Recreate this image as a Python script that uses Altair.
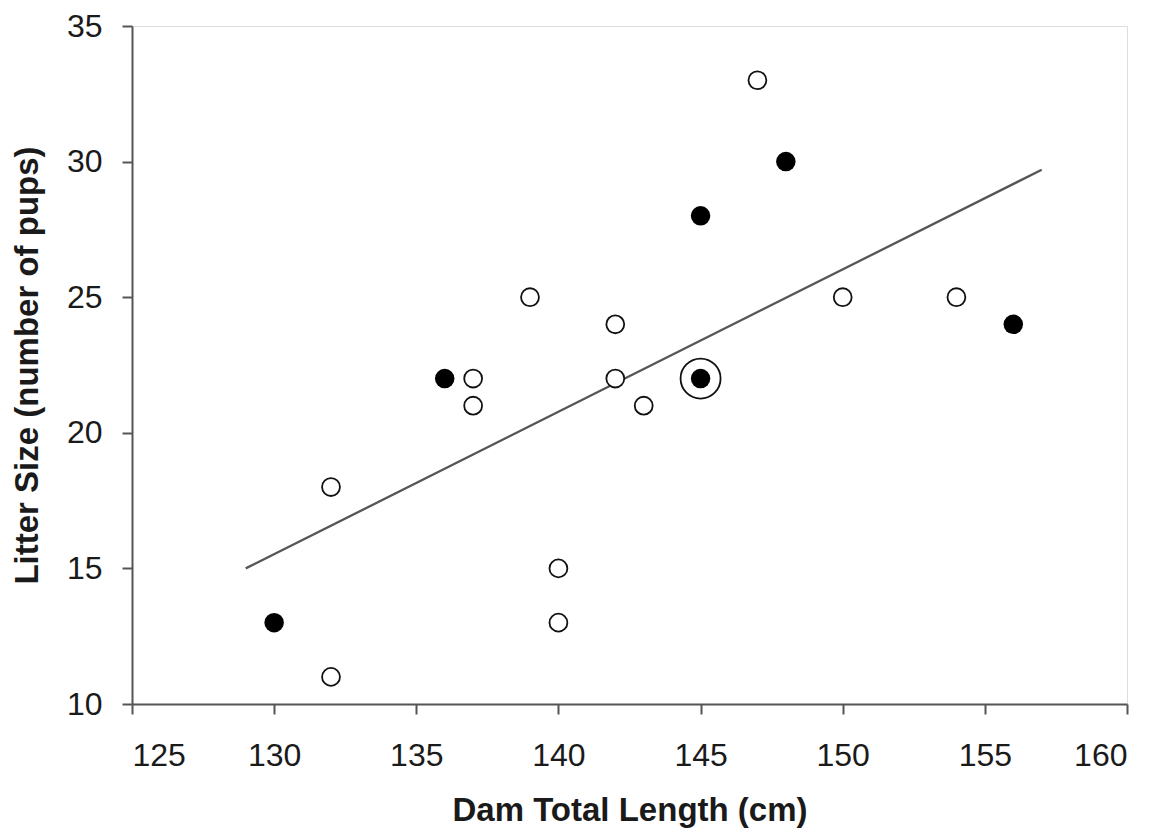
import altair as alt
import pandas as pd

# Filled (black) points
filled_x = [130, 136, 145, 148, 145, 156]
filled_y = [13, 22, 28, 30, 22, 24]

# Open (white) points
open_x = [132, 132, 137, 137, 139, 140, 140, 142, 142, 143, 147, 150, 154]
open_y = [18, 11, 22, 21, 25, 15, 13, 24, 22, 21, 33, 25, 25]

# Highlighted point (ring)
ring_x = [145]
ring_y = [22]

# Trend line endpoints
trend_x = [129, 157]
trend_y = [15.0, 29.7]

x_ticks = [125, 130, 135, 140, 145, 150, 155, 160]
y_ticks = [10, 15, 20, 25, 30, 35]

df_filled = pd.DataFrame({"x": filled_x, "y": filled_y})
df_open = pd.DataFrame({"x": open_x, "y": open_y})
df_ring = pd.DataFrame({"x": ring_x, "y": ring_y})
df_trend = pd.DataFrame({"x": trend_x, "y": trend_y})

FONT = "Liberation Sans"
AXIS_COLOR = "#555555"
TEXT_COLOR = "#1a1a1a"
W, H = 995, 678

xs = alt.Scale(domain=[125, 160], nice=False, zero=False)
ys = alt.Scale(domain=[10, 35], nice=False, zero=False)

x_enc = alt.X(
    "x:Q",
    scale=xs,
    axis=alt.Axis(
        title="Dam Total Length (cm)",
        values=x_ticks,
        grid=False,
        domainColor=AXIS_COLOR,
        domainWidth=2,
        tickColor=AXIS_COLOR,
        tickWidth=2,
        tickSize=10,
        labelFont=FONT,
        labelFontSize=32,
        labelColor=TEXT_COLOR,
        labelPadding=26,
        titleFont=FONT,
        titleFontSize=33,
        titleFontWeight="bold",
        titleColor=TEXT_COLOR,
        titleBaseline="alphabetic",
        titleY=116,
        titleX=W / 2,
    ),
)
y_enc = alt.Y(
    "y:Q",
    scale=ys,
    axis=alt.Axis(
        title="Litter Size (number of pups)",
        values=y_ticks,
        grid=False,
        domainColor=AXIS_COLOR,
        domainWidth=2,
        tickColor=AXIS_COLOR,
        tickWidth=2,
        tickSize=10,
        labelFont=FONT,
        labelFontSize=32,
        labelColor=TEXT_COLOR,
        labelPadding=20,
        titleFont=FONT,
        titleFontSize=33,
        titleFontWeight="bold",
        titleColor=TEXT_COLOR,
        titleBaseline="alphabetic",
        titleX=-95,
        titleY=H / 2,
    ),
)

trend = alt.Chart(df_trend).mark_line(color="#555555", strokeWidth=2.3).encode(x=x_enc, y=y_enc)

ring = alt.Chart(df_ring).mark_point(
    shape="circle", size=1600, filled=False, stroke="#111111", strokeWidth=1.8, fill="white", fillOpacity=1, opacity=1
).encode(x="x:Q", y="y:Q")

open_pts = alt.Chart(df_open).mark_point(
    shape="circle", size=320, filled=False, stroke="#111111", strokeWidth=1.8, fill="white", fillOpacity=1, opacity=1
).encode(x="x:Q", y="y:Q")

filled_pts = alt.Chart(df_filled).mark_point(
    shape="circle", size=380, filled=True, color="#000000", opacity=1
).encode(x="x:Q", y="y:Q")

chart = (
    alt.layer(trend, ring, open_pts, filled_pts)
    .properties(
        width=W,
        height=H,
        autosize=alt.AutoSizeParams(type="none"),
        padding={"left": 124, "top": 18, "right": 20, "bottom": 126},
    )
    .configure_view(stroke=None)
    .configure(background="white")
)

chart.save("out.html", embed_options={"renderer": "svg", "actions": False})
